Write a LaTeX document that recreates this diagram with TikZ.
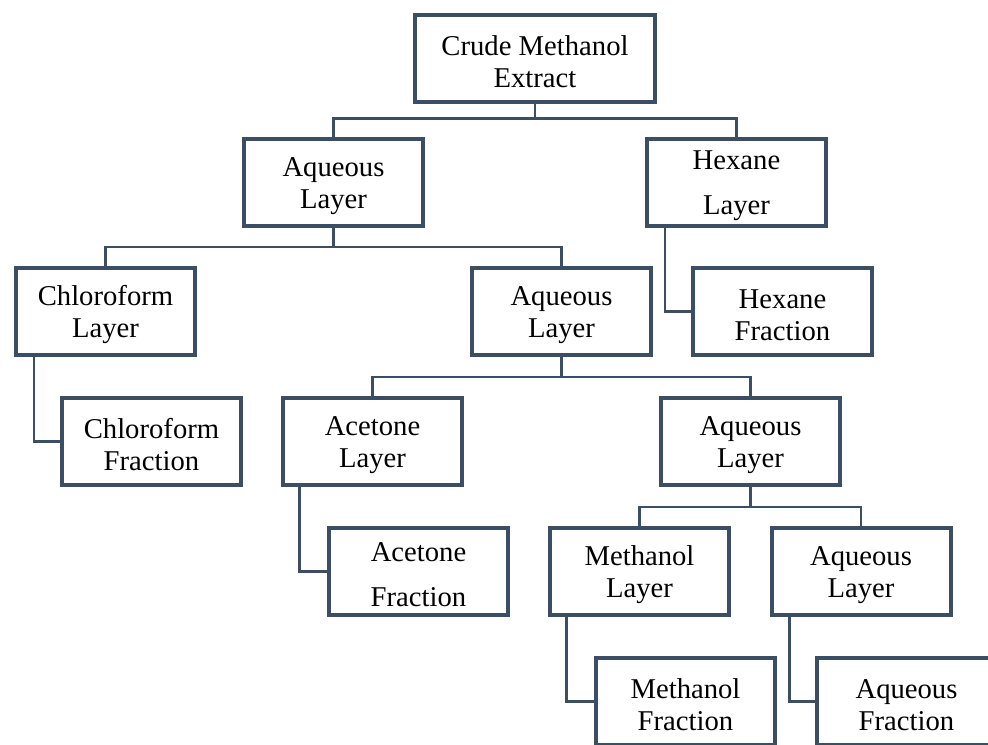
\documentclass[tikz,border=0pt]{standalone}
\usepackage{fontspec}
\setmainfont{Liberation Serif}
\definecolor{frame}{RGB}{59,78,99}
\newcommand\topup{\rule{0pt}{19.5pt}}
\begin{document}
\begin{tikzpicture}[x=0.75pt,y=-0.75pt,
  box/.style={draw=frame,line width=3pt,fill=white,minimum width=134.25pt,minimum height=65.25pt,
    align=center,inner sep=0pt,font=\fontsize{21.5}{24}\selectfont},
  conn/.style={draw=frame,line width=2.2pt}]
\clip (0,0) rectangle (988,745);
\node[box,minimum width=180pt] (crude) at (535,59) {\topup Crude Methanol\\Extract};
\node[box] (aq1) at (333.5,182.5) {\topup Aqueous\\Layer};
\node[box] (hexl) at (736.5,182.5) {\topup Hexane\\[9.75pt]Layer};
\node[box] (chll) at (105.5,311.5) {\topup Chloroform\\Layer};
\node[box] (aq2) at (561.5,311.5) {\topup Aqueous\\Layer};
\node[box] (hexf) at (782.5,311.5) {\topup Hexane\\Fraction};
\node[box] (chlf) at (151.5,441.5) {\topup Chloroform\\Fraction};
\node[box] (acel) at (372.5,441.5) {\topup Acetone\\Layer};
\node[box] (aq3) at (750.5,441.5) {\topup Aqueous\\Layer};
\node[box] (acef) at (418.5,571.5) {\topup Acetone\\[9.75pt]Fraction};
\node[box] (metl) at (639.5,571.5) {\topup Methanol\\Layer};
\node[box] (aq4) at (861,571.5) {\topup Aqueous\\Layer};
\node[box] (metf) at (685.5,701.5) {\topup Methanol\\Fraction};
\node[box] (aqf) at (906.5,701.5) {\topup Aqueous\\Fraction};
% tree connectors
\draw[conn] (crude.south) -- ++(0,14) -| (aq1.north);
\draw[conn] (crude.south) -- ++(0,14) -| (hexl.north);
\draw[conn] (aq1.south) -- ++(0,19) -| (chll.north);
\draw[conn] (aq1.south) -- ++(0,19) -| (aq2.north);
\draw[conn] (aq2.south) -- ++(0,20) -| (acel.north);
\draw[conn] (aq2.south) -- ++(0,20) -| (aq3.north);
\draw[conn] (aq3.south) -- ++(0,20) -| (metl.north);
\draw[conn] (aq3.south) -- ++(0,20) -| (aq4.north);
% side connectors
\draw[conn] ([xshift=15pt]hexl.south west) |- (hexf.west);
\draw[conn] ([xshift=15pt]chll.south west) |- (chlf.west);
\draw[conn] ([xshift=14pt]acel.south west) |- (acef.west);
\draw[conn] ([xshift=14pt]metl.south west) |- (metf.west);
\draw[conn] ([xshift=15pt]aq4.south west) |- (aqf.west);
\end{tikzpicture}
\end{document}
